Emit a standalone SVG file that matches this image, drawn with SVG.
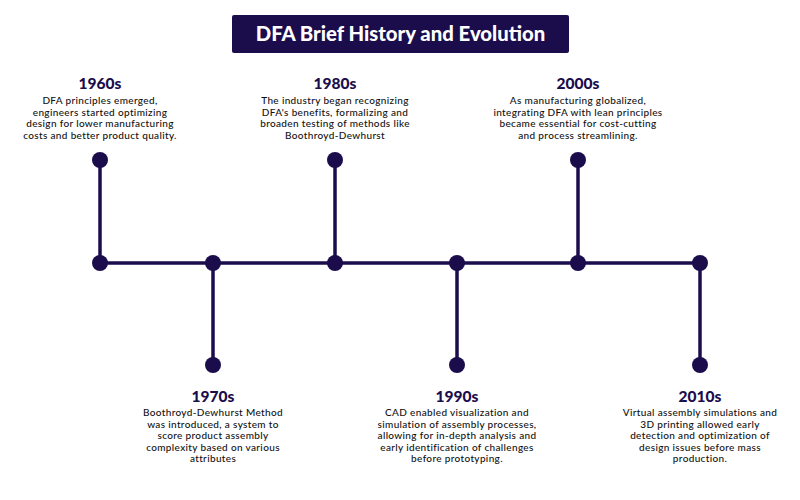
<svg xmlns="http://www.w3.org/2000/svg" width="800" height="500" viewBox="0 0 800 500">
<style>
.c{fill:#1b0c4c}
.l{stroke:#1b0c4c;stroke-width:3.5;fill:none}
.y{font-family:Lato,"Liberation Sans",sans-serif;font-weight:900;font-size:15.5px;fill:#1b0c4c;text-anchor:middle}
.b{font-family:Lato,"Liberation Sans",sans-serif;font-weight:500;font-size:10px;letter-spacing:0.35px;fill:#111;text-anchor:middle}
.t{font-family:Lato,"Liberation Sans",sans-serif;font-weight:900;font-size:20.3px;fill:#fff;text-anchor:middle}
</style>
<rect width="800" height="500" fill="#fff"/>
<g id="title">
<rect x="232" y="15" width="337" height="38" rx="2" class="c"/>
<text x="400.5" y="41" class="t">DFA Brief History and Evolution</text>
</g>
<g id="connectors">
<path class="l" d="M100 263H700"/>
<path class="l" d="M100 160V263"/>
<path class="l" d="M335 160V263"/>
<path class="l" d="M578 160V263"/>
<path class="l" d="M213 263V365"/>
<path class="l" d="M457 263V365"/>
<path class="l" d="M700 263V365"/>
</g>
<g id="n1960">
<circle cx="100" cy="160" r="8" class="c"/>
<circle cx="100" cy="263" r="8" class="c"/>
<text x="100" y="89" class="y">1960s</text>
<text class="b"><tspan x="100" y="104">DFA principles emerged,</tspan><tspan x="100" y="115.5">engineers started optimizing</tspan><tspan x="100" y="127">design for lower manufacturing</tspan><tspan x="100" y="138.5">costs and better product quality.</tspan></text>
</g>
<g id="n1970">
<circle cx="213" cy="263" r="8" class="c"/>
<circle cx="213" cy="365" r="8" class="c"/>
<text x="213" y="402" class="y">1970s</text>
<text class="b"><tspan x="213" y="416">Boothroyd-Dewhurst Method</tspan><tspan x="213" y="427.5">was introduced, a system to</tspan><tspan x="213" y="439">score product assembly</tspan><tspan x="213" y="450.5">complexity based on various</tspan><tspan x="213" y="462">attributes</tspan></text>
</g>
<g id="n1980">
<circle cx="335" cy="160" r="8" class="c"/>
<circle cx="335" cy="263" r="8" class="c"/>
<text x="335" y="89" class="y">1980s</text>
<text class="b"><tspan x="335" y="104">The industry began recognizing</tspan><tspan x="335" y="115.5">DFA's benefits, formalizing and</tspan><tspan x="335" y="127">broaden testing of methods like</tspan><tspan x="335" y="138.5">Boothroyd-Dewhurst</tspan></text>
</g>
<g id="n1990">
<circle cx="457" cy="263" r="8" class="c"/>
<circle cx="457" cy="365" r="8" class="c"/>
<text x="457" y="402" class="y">1990s</text>
<text class="b"><tspan x="457" y="416">CAD enabled visualization and</tspan><tspan x="457" y="427.5">simulation of assembly processes,</tspan><tspan x="457" y="439">allowing for in-depth analysis and</tspan><tspan x="457" y="450.5">early identification of challenges</tspan><tspan x="457" y="462">before prototyping.</tspan></text>
</g>
<g id="n2000">
<circle cx="578" cy="160" r="8" class="c"/>
<circle cx="578" cy="263" r="8" class="c"/>
<text x="578" y="89" class="y">2000s</text>
<text class="b"><tspan x="578" y="104">As manufacturing globalized,</tspan><tspan x="578" y="115.5">integrating DFA with lean principles</tspan><tspan x="578" y="127">became essential for cost-cutting</tspan><tspan x="578" y="138.5">and process streamlining.</tspan></text>
</g>
<g id="n2010">
<circle cx="700" cy="263" r="8" class="c"/>
<circle cx="700" cy="365" r="8" class="c"/>
<text x="700" y="402" class="y">2010s</text>
<text class="b"><tspan x="700" y="416">Virtual assembly simulations and</tspan><tspan x="700" y="427.5">3D printing allowed early</tspan><tspan x="700" y="439">detection and optimization of</tspan><tspan x="700" y="450.5">design issues before mass</tspan><tspan x="700" y="462">production.</tspan></text>
</g>
</svg>
